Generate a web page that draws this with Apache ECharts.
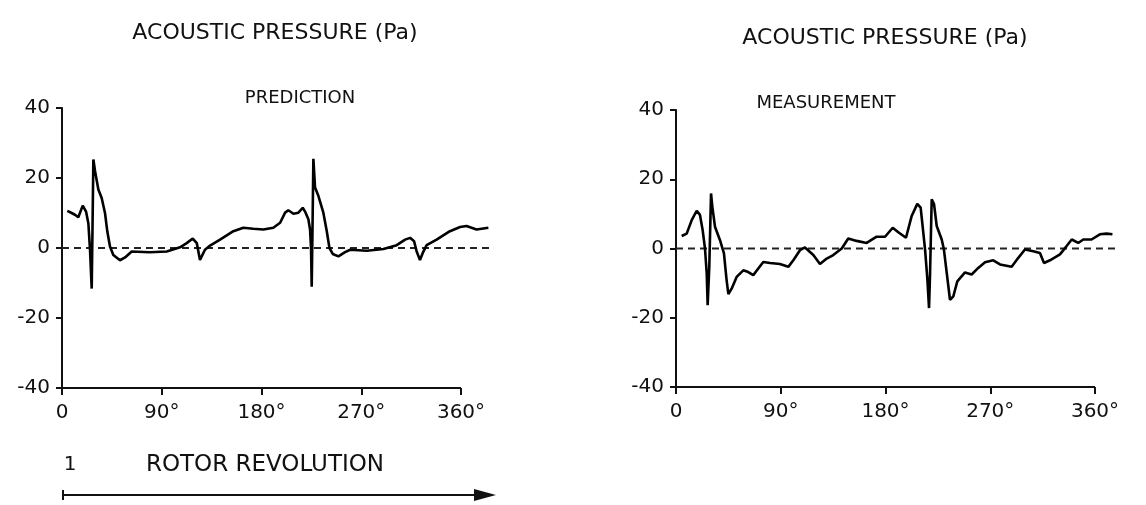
<!DOCTYPE html>
<html>
<head>
<meta charset="utf-8">
<script src="https://cdn.jsdelivr.net/npm/echarts@6/dist/echarts.min.js"></script>
<style>
    html, body { margin: 0; padding: 0; background: #fff; }
    #container { width: 1146px; height: 505px; }
</style>
</head>
<body>
<div id="container"></div>
<script>
// prediction curve (angle in degrees, pressure in Pa)
var predDeg = [4.8, 8.7, 11.7, 14.7, 18.7, 21.7, 23.8, 25.3, 26.8, 27.5, 28.3, 29.8, 31.3, 32.8, 35.8, 38.8,
    40.9, 43.3, 46.3, 52.3, 56.9, 62.9, 79, 94.5, 106.5, 112.5, 118, 121.6, 124.5, 129, 133.6, 142.6,
    154.6, 163.6, 172.6, 181.7, 190.7, 196.8, 201.3, 204.2, 208.8, 213.3, 217.2, 219.3, 222.3, 223.8,
    224.7, 225.3, 226, 226.8, 228.3, 231.3, 235.8, 238.9, 241.3, 244.3, 249.4, 255.4, 260, 275, 290,
    302, 309.6, 314, 317.7, 320, 323, 325.5, 329, 338, 350, 359.2, 365, 374, 384.7];
var predVal = [10.6, 10.0, 9.5, 8.8, 12.1, 10.4, 7.0, -0.6, -11.6, 5, 25.3, 22, 21.5, 16.7, 14.3, 10,
    4.7, 0.4, -2, -3.5, -2.7, -1, -1.2, -1, 0.2, 1.4, 2.7, 1.4, -3.4, -0.5, 0.7, 2.4,
    4.8, 5.8, 5.5, 5.3, 5.8, 7.2, 10.1, 10.8, 9.8, 10.1, 11.5, 10.4, 8.2, 5.3,
    0, -11.1, 5, 25.5, 17.3, 14.9, 10.1, 4.8, 0, -1.7, -2.4, -1.2, -0.5, -0.8, -0.3,
    0.8, 2.4, 2.9, 1.9, -1, -3.4, -1.4, 0.8, 2.4, 4.8, 6.0, 6.3, 5.3, 5.8];

// measurement curve
var measDeg = [4.9, 9.2, 13.5, 17.8, 20.6, 22.9, 24.9, 26.4, 27.2, 28.6, 30.1, 31.2, 33.5, 37.8, 41.2,
    43.5, 45, 47.8, 52.1, 57.8, 62.1, 66.4, 70.7, 75, 80.8, 89.3, 96.5, 100.8, 106.5, 110.8, 118,
    123.7, 129.5, 135.1, 142.4, 148, 155.2, 163.8, 172.4, 179.6, 186.2, 191, 197.6, 202.5, 207.3,
    210.2, 212.5, 214, 216, 217.4, 218.3, 219.7, 221.7, 224, 228.3, 230.2, 232.6, 235.4, 238.3,
    241.7, 248.3, 254, 259.7, 265.5, 272.6, 278.4, 288.4, 294.1, 299.8, 307, 312.7, 316.2, 321.3,
    329.9, 335.6, 340, 345.6, 349.9, 357, 364.2, 369.9, 375];
var measVal = [3.6, 4.3, 8.2, 10.9, 9.7, 5.3, 0, -7.2, -16.4, -5.3, 15.9, 12.1, 6.3, 2.4, -1.4,
    -9.2, -13.2, -11.6, -8.2, -6.3, -6.8, -7.7, -5.8, -3.9, -4.2, -4.5, -5.3, -3.4, -0.5, 0.3, -1.9,
    -4.5, -2.9, -1.9, 0, 2.9, 2.2, 1.6, 3.4, 3.4, 6.0, 4.7, 3.1, 9.4, 12.9,
    11.8, 4.5, -0.3, -9, -17.2, -7, 14.2, 12.8, 6.5, 2.6, -0.3, -7, -14.8, -13.8,
    -9.5, -6.9, -7.5, -5.6, -4, -3.4, -4.6, -5.3, -2.7, -0.3, -0.8, -1.3, -4.2, -3.4,
    -1.7, 0.7, 2.6, 1.6, 2.6, 2.6, 4.1, 4.3, 4.1];

// zero reference lines (dashed), they run a bit past 360
var zeroLeftDeg = [0, 386];
var zeroRightDeg = [0, 378];

var xTicks = [0, 90, 180, 270, 360];
var yTicks = [-40, -20, 0, 20, 40];
var X_MAX = 390;   // room for the curves past the 360° end of the axis

function pairs(xs, ys) {
    var out = [];
    for (var i = 0; i < xs.length; i++) {
        out.push([xs[i], ys[i]]);
    }
    return out;
}

var FONT = 'DejaVu Sans';

function makeX(idx) {
    return {
        type: 'value',
        gridIndex: idx,
        min: 0,
        max: X_MAX,
        splitLine: {show: false},
        axisLine: {show: false, onZero: false},
        axisTick: {show: true, length: 7, customValues: xTicks, lineStyle: {color: '#111', width: 2}},
        axisLabel: {
            color: '#111', fontFamily: FONT, fontSize: 20, margin: 15, customValues: xTicks,
            formatter: function (v) { return v === 0 ? '0' : v + '°'; }
        }
    };
}

function makeY(idx) {
    return {
        type: 'value',
        gridIndex: idx,
        min: yTicks[0],
        max: yTicks[yTicks.length - 1],
        interval: 20,
        splitLine: {show: false},
        axisLine: {lineStyle: {color: '#111', width: 2}},
        axisTick: {length: 6, lineStyle: {color: '#111', width: 2}},
        axisLabel: {color: '#111', fontFamily: FONT, fontSize: 20, margin: 12}
    };
}

function curve(idx, data) {
    return {
        type: 'line', xAxisIndex: idx, yAxisIndex: idx,
        data: data, showSymbol: false, clip: false, animation: false,
        lineStyle: {color: '#000', width: 2.6}
    };
}

function zero(idx, degs) {
    return {
        type: 'line', xAxisIndex: idx, yAxisIndex: idx,
        data: pairs(degs, [0, 0]), showSymbol: false, clip: false, animation: false,
        lineStyle: {color: '#222', width: 2, type: [7, 5]},
        // bottom axis line, drawn only from 0 to 360
        markLine: {
            silent: true, symbol: 'none', animation: false, label: {show: false},
            lineStyle: {color: '#111', width: 2, type: 'solid'},
            data: [[{coord: [xTicks[0], yTicks[0]]}, {coord: [xTicks[xTicks.length - 1], yTicks[0]]}]]
        }
    };
}

function label(text, x, y, size) {
    return {
        type: 'text', x: x, y: y,
        style: {text: text, fill: '#111', font: size + 'px "' + FONT + '"', align: 'center', verticalAlign: 'middle'}
    };
}

var myChart = echarts.init(document.getElementById('container'));
var option = {
    backgroundColor: '#fff',
    animation: false,
    grid: [
        {left: 62, top: 108, width: 399 * X_MAX / 360, height: 280},
        {left: 676, top: 110, width: 419 * X_MAX / 360, height: 277}
    ],
    xAxis: [makeX(0), makeX(1)],
    yAxis: [makeY(0), makeY(1)],
    series: [
        zero(0, zeroLeftDeg),
        curve(0, pairs(predDeg, predVal)),
        zero(1, zeroRightDeg),
        curve(1, pairs(measDeg, measVal))
    ],
    graphic: [
        label('ACOUSTIC PRESSURE (Pa)', 275, 33, 22),
        label('PREDICTION', 300, 98, 18),
        label('ACOUSTIC PRESSURE (Pa)', 885, 38, 22),
        label('MEASUREMENT', 826, 103, 18),
        label('1', 70, 465, 20),
        label('ROTOR REVOLUTION', 265, 465, 23),
        {
            type: 'line',
            shape: {x1: 63, y1: 495, x2: 478, y2: 495},
            style: {stroke: '#111', lineWidth: 2}
        },
        {
            type: 'line',
            shape: {x1: 63, y1: 490, x2: 63, y2: 500},
            style: {stroke: '#111', lineWidth: 2}
        },
        {
            type: 'polygon',
            shape: {points: [[474, 489], [496, 495], [474, 501]]},
            style: {fill: '#111'}
        }
    ]
};

myChart.setOption(option);
</script>
</body>
</html>
